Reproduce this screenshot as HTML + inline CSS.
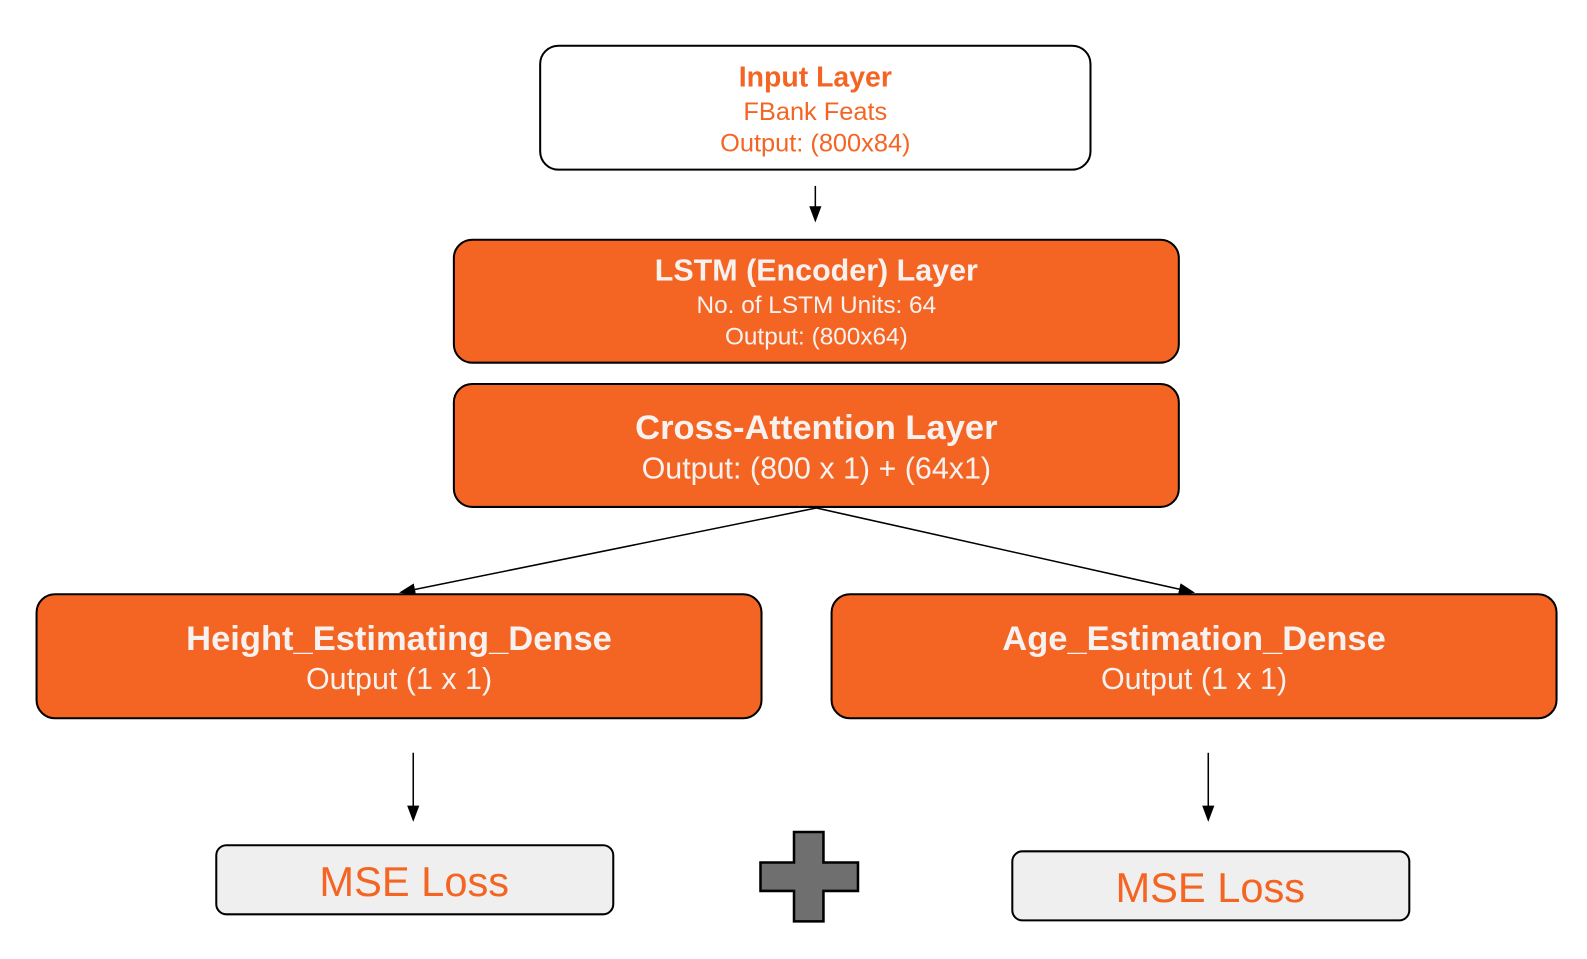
<!DOCTYPE html>
<html><head><style>
html,body{margin:0;padding:0;background:#fff;}
svg{display:block;}
text{font-family:"Liberation Sans",sans-serif;text-anchor:middle;}
</style></head><body>
<svg width="1587" height="959" viewBox="0 0 1563 944" preserveAspectRatio="none">
<defs><marker id="b" markerWidth="16" markerHeight="12" refX="14" refY="6" orient="auto" markerUnits="userSpaceOnUse"><path d="M0,0 L16,6 L0,12 z" fill="#000"/></marker></defs>
<rect x="532" y="45" width="542" height="122" rx="18" fill="#fff" stroke="#000" stroke-width="2"/>
<text x="803" y="85" font-size="28" font-weight="bold" fill="#f46524">Input Layer</text>
<text x="803" y="118" font-size="25" fill="#f46524">FBank Feats</text>
<text x="803" y="149" font-size="25" fill="#f46524">Output: (800x84)</text>
<line x1="803" y1="183" x2="803" y2="217" stroke="#000" stroke-width="1.5" marker-end="url(#b)"/>
<rect x="447" y="236" width="714" height="121" rx="18" fill="#f46524" stroke="#000" stroke-width="2"/>
<text x="804" y="276" font-size="30" font-weight="bold" fill="#f7f2f0">LSTM (Encoder) Layer</text>
<text x="804" y="308" font-size="24" fill="#f7f2f0">No. of LSTM Units: 64</text>
<text x="804" y="339" font-size="24" fill="#f7f2f0">Output: (800x64)</text>
<rect x="447" y="378" width="714" height="121" rx="18" fill="#f46524" stroke="#000" stroke-width="2"/>
<text x="804" y="432" font-size="34" font-weight="bold" fill="#f7f2f0">Cross-Attention Layer</text>
<text x="804" y="471" font-size="30" fill="#f7f2f0">Output: (800 x 1) + (64x1)</text>
<line x1="804" y1="500" x2="395" y2="583" stroke="#000" stroke-width="1.5" marker-end="url(#b)"/>
<line x1="804" y1="500" x2="1175" y2="583" stroke="#000" stroke-width="1.5" marker-end="url(#b)"/>
<rect x="36" y="585" width="714" height="122" rx="18" fill="#f46524" stroke="#000" stroke-width="2"/>
<text x="393" y="640" font-size="34" font-weight="bold" fill="#f7f2f0">Height_Estimating_Dense</text>
<text x="393" y="678" font-size="30" fill="#f7f2f0">Output (1 x 1)</text>
<rect x="819" y="585" width="714" height="122" rx="18" fill="#f46524" stroke="#000" stroke-width="2"/>
<text x="1176" y="640" font-size="34" font-weight="bold" fill="#f7f2f0">Age_Estimation_Dense</text>
<text x="1176" y="678" font-size="30" fill="#f7f2f0">Output (1 x 1)</text>
<line x1="407" y1="741" x2="407" y2="807" stroke="#000" stroke-width="1.5" marker-end="url(#b)"/>
<line x1="1190" y1="741" x2="1190" y2="807" stroke="#000" stroke-width="1.5" marker-end="url(#b)"/>
<rect x="213" y="832" width="391" height="68" rx="10" fill="#efefef" stroke="#000" stroke-width="2"/>
<text x="408" y="882" font-size="41" fill="#f46524">MSE Loss</text>
<rect x="997" y="838" width="391" height="68" rx="10" fill="#efefef" stroke="#000" stroke-width="2"/>
<text x="1192" y="888" font-size="41" fill="#f46524">MSE Loss</text>
<path d="M782,819 H811 V849 H845 V877 H811 V907 H782 V877 H749 V849 H782 Z" fill="#6f6f6f" stroke="#000" stroke-width="2.5"/>
</svg>
</body></html>
